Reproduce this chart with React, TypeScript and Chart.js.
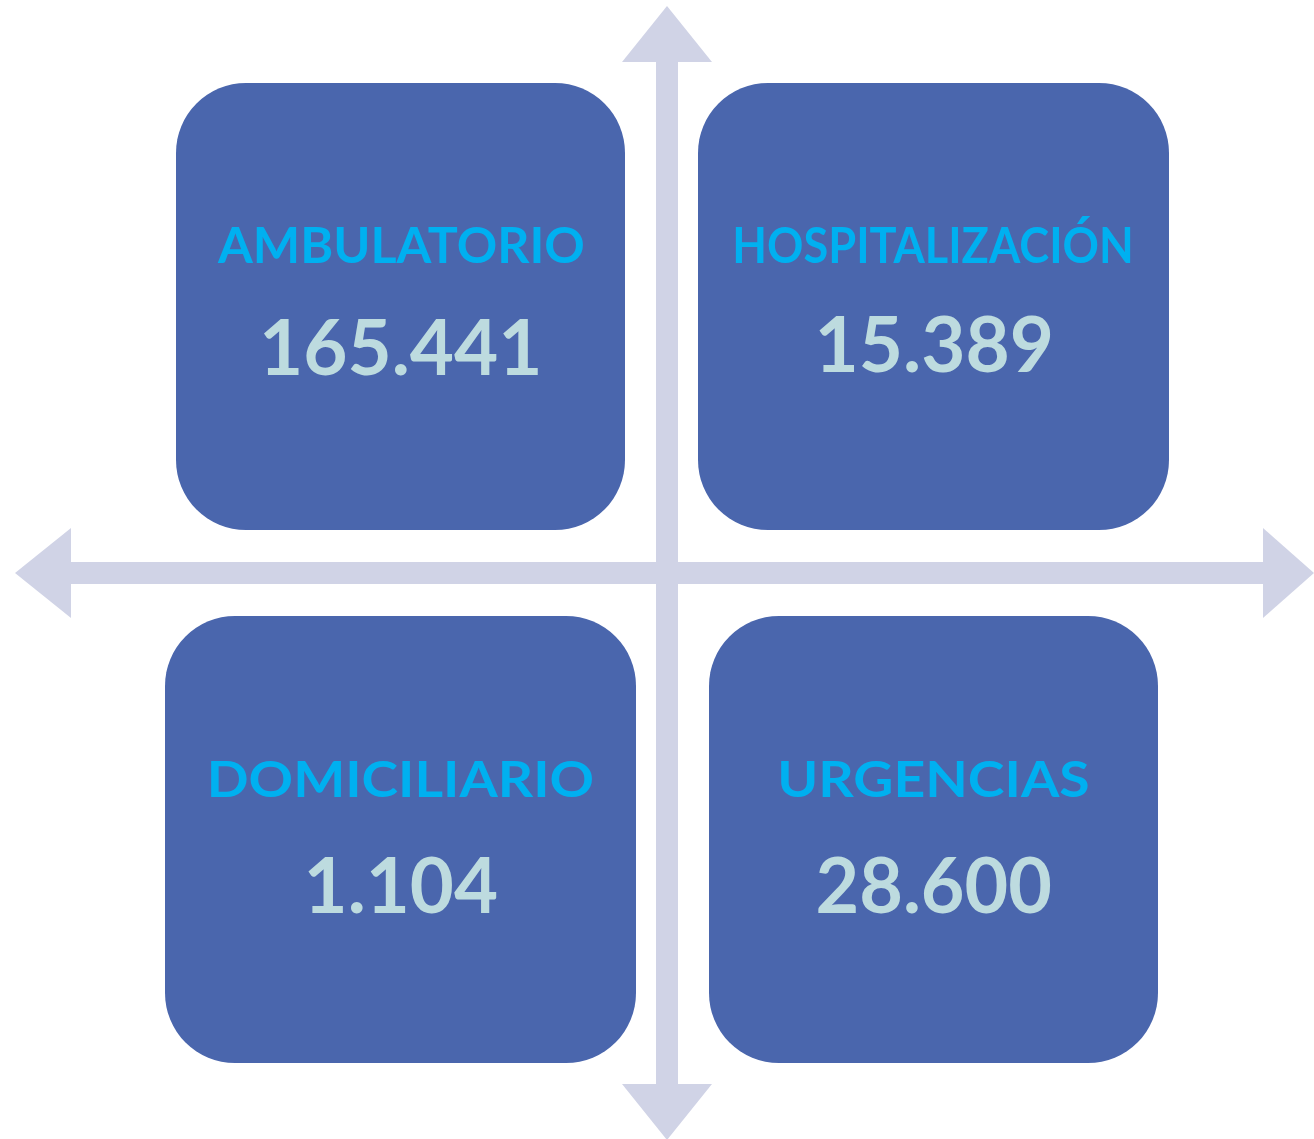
import React, { useEffect, useRef } from "react";
import { Chart, registerables } from "chart.js";

Chart.register(...registerables);

// ---- data ----
const categories = ["AMBULATORIO", "HOSPITALIZACIÓN", "DOMICILIARIO", "URGENCIAS"];
const values = [165441, 15389, 1104, 28600];

// ---- layout (in scale units; scales span the canvas 1:1) ----
const W = 1314;
const H = 1139;
const boxRects = [
  [176, 83, 625, 530],
  [698, 83, 1169, 530],
  [165, 616, 636, 1063],
  [709, 616, 1158, 1063],
];
const labelBaselines = [263, 263, 797, 797];
const valueBaselines = [375, 372, 913, 913];
const labelWidths = [366, 396, 382, 308];
const valueWidths = [274, 231, 188, 233];
const labelCenters = [400, 933, 401, 934.5];
const valueCenters = [401, 935, 402.5, 934];
const LABEL_CAP = 36;
const VALUE_CAP = 56;
const CORNER = 70;

const BOX_COLOR = "#4A66AD";
const LABEL_COLOR = "#00B0F0";
const VALUE_COLOR = "#BDDBDF";
const ARROW_COLOR = "#D0D3E6";
const FONT = "Lato, 'Open Sans', sans-serif";

function fmt(n: number): string {
  return String(n).replace(/\B(?=(\d{3})+(?!\d))/g, ".");
}

function drawFitted(
  ctx: CanvasRenderingContext2D,
  text: string,
  cx: number,
  baseline: number,
  width: number,
  cap: number,
  color: string
) {
  ctx.save();
  ctx.textAlign = "left";
  ctx.textBaseline = "alphabetic";
  ctx.font = `bold 100px ${FONT}`;
  const capM = ctx.measureText("H");
  const capH = capM.actualBoundingBoxAscent || 71.6;
  const size = (100 * cap) / capH;
  ctx.font = `bold ${size}px ${FONT}`;
  const m = ctx.measureText(text);
  const inkL = m.actualBoundingBoxLeft;
  const inkW = m.actualBoundingBoxLeft + m.actualBoundingBoxRight;
  const sx = width / inkW;
  ctx.fillStyle = color;
  ctx.translate(cx - width / 2, baseline);
  ctx.scale(sx, 1);
  ctx.fillText(text, inkL, 0);
  ctx.restore();
}

const diagramPlugin = {
  id: "quadDiagram",
  beforeDatasetsDraw(chart: any) {
    const ctx = chart.ctx as CanvasRenderingContext2D;
    const xs = chart.scales.x;
    const ys = chart.scales.y;
    const px = (v: number) => xs.getPixelForValue(v);
    const py = (v: number) => ys.getPixelForValue(v);

    ctx.save();
    // arrows
    ctx.fillStyle = ARROW_COLOR;
    ctx.fillRect(px(656), py(60), px(678) - px(656), py(1086) - py(60));
    ctx.fillRect(px(69), py(562), px(1265) - px(69), py(584) - py(562));
    const tri = (pts: number[][]) => {
      ctx.beginPath();
      ctx.moveTo(px(pts[0][0]), py(pts[0][1]));
      for (let i = 1; i < pts.length; i++) ctx.lineTo(px(pts[i][0]), py(pts[i][1]));
      ctx.closePath();
      ctx.fill();
    };
    tri([[667, 6], [622, 62], [712, 62]]);
    tri([[667, 1140], [622, 1084], [712, 1084]]);
    tri([[15, 573], [71, 528], [71, 618]]);
    tri([[1314, 573], [1263, 528], [1263, 618]]);

    // boxes
    ctx.fillStyle = BOX_COLOR;
    boxRects.forEach((r) => {
      const x0 = px(r[0]), y0 = py(r[1]), x1 = px(r[2]), y1 = py(r[3]);
      ctx.beginPath();
      (ctx as any).roundRect(x0, y0, x1 - x0, y1 - y0, CORNER);
      ctx.fill();
    });
    ctx.restore();

    // text
    categories.forEach((c, i) => {
      drawFitted(ctx, c, px(labelCenters[i]), py(labelBaselines[i]), labelWidths[i], LABEL_CAP, LABEL_COLOR);
      drawFitted(ctx, fmt(values[i]), px(valueCenters[i]), py(valueBaselines[i]), valueWidths[i], VALUE_CAP, VALUE_COLOR);
    });
  },
};

export default function App() {
  const ref = useRef<HTMLCanvasElement | null>(null);
  useEffect(() => {
    if (!ref.current) return;
    const chart = new Chart(ref.current, {
      type: "scatter",
      data: {
        datasets: [
          {
            label: "valores",
            data: boxRects.map((r, i) => ({ x: (r[0] + r[2]) / 2, y: (r[1] + r[3]) / 2, v: values[i] })) as any,
            pointRadius: 0,
            pointHoverRadius: 0,
          },
        ],
      },
      options: {
        responsive: false,
        animation: false,
        events: [],
        layout: { padding: 0 },
        plugins: { legend: { display: false }, tooltip: { enabled: false } },
        scales: {
          x: { type: "linear", min: 0, max: W, display: false },
          y: { type: "linear", min: 0, max: H, reverse: true, display: false },
        },
      },
      plugins: [diagramPlugin],
    });
    return () => chart.destroy();
  }, []);
  return (
    <div style={{ position: "absolute", left: 0, top: 0, width: W, height: H, background: "#fff" }}>
      <canvas ref={ref} width={W} height={H} style={{ width: W, height: H, display: "block" }} />
    </div>
  );
}
